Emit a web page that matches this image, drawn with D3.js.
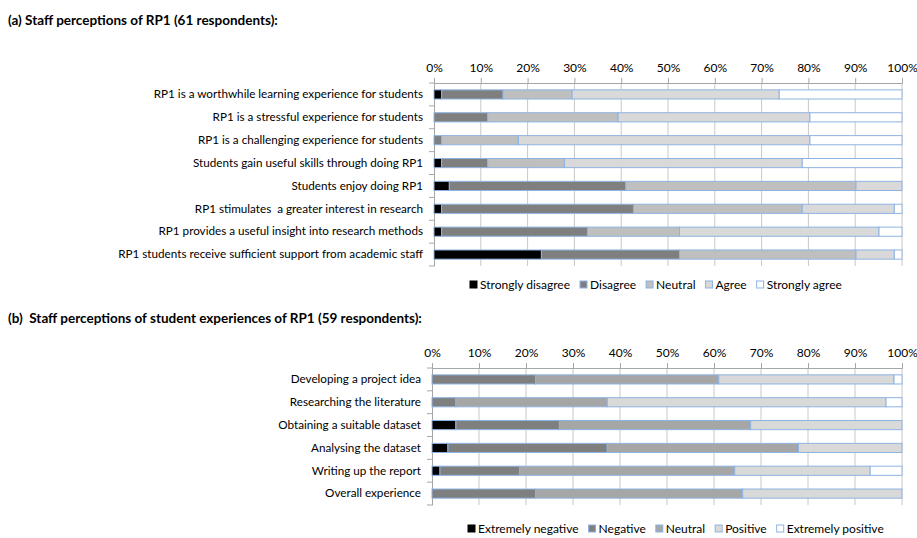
<!DOCTYPE html>
<html>
<head>
<meta charset="utf-8">
<script src="https://cdn.jsdelivr.net/npm/d3@7"></script>
<style>
  body { margin: 0; background: #fff; }
  text { font-family: Lato, "Open Sans", sans-serif; fill: #000; white-space: pre; }
</style>
</head>
<body>
<div id="chart"></div>
<script>
// (a) staff perceptions, counts out of 61
const statementsA = [
  "RP1 is a worthwhile learning experience for students",
  "RP1 is a stressful experience for students",
  "RP1 is a challenging experience for students",
  "Students gain useful skills through doing RP1",
  "Students enjoy doing RP1",
  "RP1 stimulates  a greater interest in research",
  "RP1 provides a useful insight into research methods",
  "RP1 students receive sufficient support from academic staff"
];
const levelsA = ["Strongly disagree", "Disagree", "Neutral", "Agree", "Strongly agree"];
const countsA = [
  [1, 8, 9, 27, 16],
  [0, 7, 17, 25, 12],
  [0, 1, 10, 38, 12],
  [1, 6, 10, 31, 13],
  [2, 23, 30, 6, 0],
  [1, 25, 22, 12, 1],
  [1, 19, 12, 26, 3],
  [14, 18, 23, 5, 1]
];

// (b) student experiences, counts out of 59
const stagesB = [
  "Developing a project idea",
  "Researching the literature",
  "Obtaining a suitable dataset",
  "Analysing the dataset",
  "Writing up the report",
  "Overall experience"
];
const levelsB = ["Extremely negative", "Negative", "Neutral", "Positive", "Extremely positive"];
const countsB = [
  [0, 13, 23, 22, 1],
  [0, 3, 19, 35, 2],
  [3, 13, 24, 19, 0],
  [2, 20, 24, 13, 0],
  [1, 10, 27, 17, 4],
  [0, 13, 26, 20, 0]
];

const ticks = [0, 0.1, 0.2, 0.3, 0.4, 0.5, 0.6, 0.7, 0.8, 0.9, 1];

const svg = d3.select('#chart').append('svg')
    .attr('width', 917)
    .attr('height', 538);

function drawChart(opts) {
  const {cats, levels, counts, colors, left, right, top, bottom, title, titleY, legendX, legendY} = opts;

  svg.append('text')
      .attr('x', 8).attr('y', titleY)
      .style('font-weight', 'bold')
      .style('font-size', '13.5px')
      .text(title);

  const x = d3.scaleLinear().domain([0, 1]).range([left, right]);
  const y = d3.scaleBand().domain(cats).range([top, bottom]).paddingInner(0.6).paddingOuter(0.3);
  const step = y.step();

  // gridlines
  svg.append('g').selectAll('line').data(ticks.slice(1)).join('line')
      .attr('x1', d => x(d)).attr('x2', d => x(d))
      .attr('y1', top).attr('y2', bottom)
      .attr('stroke', '#c8c8c8');

  // x axis on top
  const xAxis = svg.append('g')
      .attr('transform', `translate(0,${top})`)
      .call(d3.axisTop(x).tickValues(ticks).tickFormat(d3.format('.0%')).tickSize(5).tickPadding(6));
  xAxis.select('.domain').attr('stroke', '#a6a6a6');
  xAxis.selectAll('.tick line').attr('stroke', '#a6a6a6');
  xAxis.selectAll('.tick text').style('font-size', '12px').style('font-family', 'Lato, sans-serif');

  // y axis
  const yAxis = svg.append('g')
      .attr('transform', `translate(${left},0)`)
      .call(d3.axisLeft(y).tickSize(0).tickPadding(11));
  yAxis.select('.domain').attr('stroke', '#a6a6a6');
  yAxis.selectAll('.tick text').style('font-size', '11.7px').style('font-family', 'Lato, sans-serif');
  const bounds = d3.range(cats.length + 1).map(i => top + i * step);
  svg.append('g').selectAll('line').data(bounds).join('line')
      .attr('x1', left - 5).attr('x2', left)
      .attr('y1', d => d).attr('y2', d => d)
      .attr('stroke', '#a6a6a6');

  // stacked bars
  const rows = cats.map((c, i) => {
    const total = d3.sum(counts[i]);
    let acc = 0;
    return counts[i].map((v, j) => {
      const seg = {cat: c, level: j, x0: acc / total, x1: (acc + v) / total};
      acc += v;
      return seg;
    }).filter(s => s.x1 > s.x0);
  }).flat();

  svg.append('g').selectAll('rect').data(rows).join('rect')
      .attr('x', d => x(d.x0))
      .attr('y', d => y(d.cat))
      .attr('width', d => x(d.x1) - x(d.x0))
      .attr('height', y.bandwidth())
      .attr('fill', d => colors[d.level])
      .attr('stroke', '#8db3e2')
      .attr('stroke-width', 1);

  // legend
  const lg = svg.append('g').attr('transform', `translate(${legendX},${legendY})`);
  let lx = 0;
  levels.forEach((name, j) => {
    lg.append('rect')
        .attr('x', lx).attr('y', -4)
        .attr('width', 7).attr('height', 7)
        .attr('fill', colors[j])
        .attr('stroke', j === 0 ? colors[0] : '#8db3e2');
    const t = lg.append('text')
        .attr('x', lx + 10).attr('y', 4)
        .style('font-size', '12px')
        .text(name);
    lx += 10 + t.node().getComputedTextLength() + 10;
  });
}

drawChart({
  cats: statementsA, levels: levelsA, counts: countsA,
  colors: ['#000000', '#7f7f7f', '#bfbfbf', '#d9d9d9', '#ffffff'],
  left: 434, right: 902, top: 83, bottom: 266,
  title: '(a) Staff perceptions of RP1 (61 respondents):', titleY: 25,
  legendX: 470, legendY: 285
});

drawChart({
  cats: stagesB, levels: levelsB, counts: countsB,
  colors: ['#000000', '#7f7f7f', '#a6a6a6', '#d9d9d9', '#ffffff'],
  left: 432, right: 902, top: 368, bottom: 505,
  title: '(b)  Staff perceptions of student experiences of RP1 (59 respondents):', titleY: 323,
  legendX: 468, legendY: 529
});
</script>
</body>
</html>
